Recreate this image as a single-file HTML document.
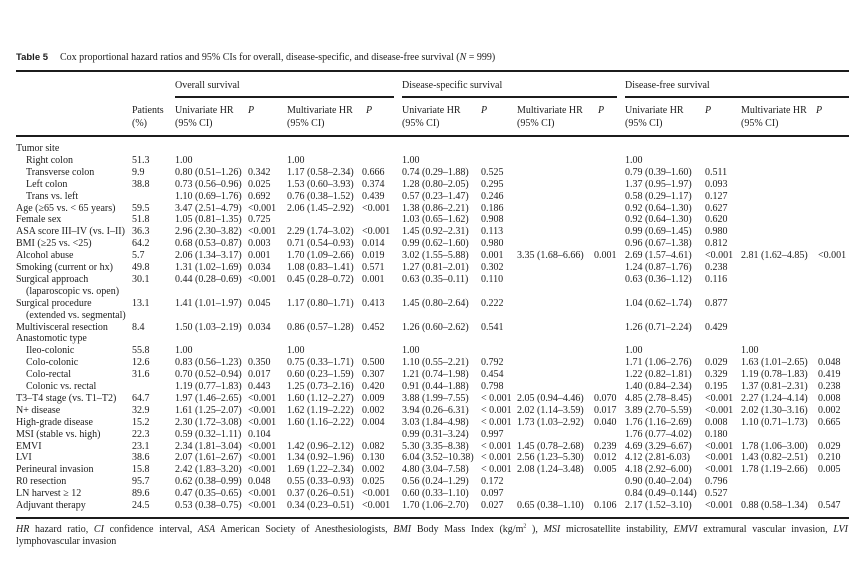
<!DOCTYPE html>
<html><head><meta charset="utf-8">
<style>
html,body{margin:0;padding:0;background:#fff;}
body{width:856px;height:583px;position:relative;overflow:hidden;font-family:"Liberation Serif",serif;font-size:10px;color:#1c1c1c;}
.r{position:absolute;left:0;width:856px;height:12px;line-height:12px;}
.r span,.a{position:absolute;white-space:nowrap;line-height:12px;}
.hr{position:absolute;background:#1c1c1c;}
.c0{left:16px}.ci{left:26px}.c1{left:132px}.c2{left:175px}.c3{left:248px}.c4{left:287px}.c5{left:362px}
.c6{left:402px}.c7{left:481px}.c8{left:517px}.c9{left:594px}.c10{left:625px}.c11{left:705px}.c12{left:741px}.c13{left:818px}
i{font-style:italic}
</style></head><body>
<div class="a" style="left:16px;top:52px;"><span style="font-family:'Liberation Sans',sans-serif;font-weight:bold;font-size:9.5px;">Table 5</span></div>
<div class="a" style="left:60px;top:52px;">Cox proportional hazard ratios and 95% CIs for overall, disease-specific, and disease-free survival (<i>N</i> = 999)</div>
<div class="hr" style="left:16px;top:70px;width:833px;height:2px;"></div>
<div class="a" style="left:175px;top:80px;">Overall survival</div>
<div class="a" style="left:402px;top:80px;">Disease-specific survival</div>
<div class="a" style="left:625px;top:80px;">Disease-free survival</div>
<div class="hr" style="left:175px;top:96px;width:219px;height:1.5px;"></div>
<div class="hr" style="left:402px;top:96px;width:215px;height:1.5px;"></div>
<div class="hr" style="left:625px;top:96px;width:224px;height:1.5px;"></div>
<div class="r" style="top:105px;"><span class="c1">Patients</span><span class="c2">Univariate HR</span><span class="c3"><i>P</i></span><span class="c4">Multivariate HR</span><span class="c5" style="left:366px"><i>P</i></span><span class="c6">Univariate HR</span><span class="c7"><i>P</i></span><span class="c8">Multivariate HR</span><span class="c9" style="left:598px"><i>P</i></span><span class="c10">Univariate HR</span><span class="c11"><i>P</i></span><span class="c12">Multivariate HR</span><span class="c13" style="left:816px"><i>P</i></span></div>
<div class="r" style="top:118px;"><span class="c1">(%)</span><span class="c2">(95% CI)</span><span class="c4">(95% CI)</span><span class="c6">(95% CI)</span><span class="c8">(95% CI)</span><span class="c10">(95% CI)</span><span class="c12">(95% CI)</span></div>
<div class="hr" style="left:16px;top:135px;width:833px;height:2px;"></div>

<div class="r" style="top:143px;"><span class="c0">Tumor site</span></div>
<div class="r" style="top:154.9px;"><span class="ci">Right colon</span><span class="c1">51.3</span><span class="c2">1.00</span><span class="c4">1.00</span><span class="c6">1.00</span><span class="c10">1.00</span></div>
<div class="r" style="top:166.8px;"><span class="ci">Transverse colon</span><span class="c1">9.9</span><span class="c2">0.80 (0.51–1.26)</span><span class="c3">0.342</span><span class="c4">1.17 (0.58–2.34)</span><span class="c5">0.666</span><span class="c6">0.74 (0.29–1.88)</span><span class="c7">0.525</span><span class="c10">0.79 (0.39–1.60)</span><span class="c11">0.511</span></div>
<div class="r" style="top:178.7px;"><span class="ci">Left colon</span><span class="c1">38.8</span><span class="c2">0.73 (0.56–0.96)</span><span class="c3">0.025</span><span class="c4">1.53 (0.60–3.93)</span><span class="c5">0.374</span><span class="c6">1.28 (0.80–2.05)</span><span class="c7">0.295</span><span class="c10">1.37 (0.95–1.97)</span><span class="c11">0.093</span></div>
<div class="r" style="top:190.6px;"><span class="ci">Trans vs. left</span><span class="c2">1.10 (0.69–1.76)</span><span class="c3">0.692</span><span class="c4">0.76 (0.38–1.52)</span><span class="c5">0.439</span><span class="c6">0.57 (0.23–1.47)</span><span class="c7">0.246</span><span class="c10">0.58 (0.29–1.17)</span><span class="c11">0.127</span></div>
<div class="r" style="top:202.5px;"><span class="c0">Age (≥65 vs. &lt; 65 years)</span><span class="c1">59.5</span><span class="c2">3.47 (2.51–4.79)</span><span class="c3">&lt;0.001</span><span class="c4">2.06 (1.45–2.92)</span><span class="c5">&lt;0.001</span><span class="c6">1.38 (0.86–2.21)</span><span class="c7">0.186</span><span class="c10">0.92 (0.64–1.30)</span><span class="c11">0.627</span></div>
<div class="r" style="top:214.4px;"><span class="c0">Female sex</span><span class="c1">51.8</span><span class="c2">1.05 (0.81–1.35)</span><span class="c3">0.725</span><span class="c6">1.03 (0.65–1.62)</span><span class="c7">0.908</span><span class="c10">0.92 (0.64–1.30)</span><span class="c11">0.620</span></div>
<div class="r" style="top:226.3px;"><span class="c0">ASA score III–IV (vs. I–II)</span><span class="c1">36.3</span><span class="c2">2.96 (2.30–3.82)</span><span class="c3">&lt;0.001</span><span class="c4">2.29 (1.74–3.02)</span><span class="c5">&lt;0.001</span><span class="c6">1.45 (0.92–2.31)</span><span class="c7">0.113</span><span class="c10">0.99 (0.69–1.45)</span><span class="c11">0.980</span></div>
<div class="r" style="top:238.2px;"><span class="c0">BMI (≥25 vs. &lt;25)</span><span class="c1">64.2</span><span class="c2">0.68 (0.53–0.87)</span><span class="c3">0.003</span><span class="c4">0.71 (0.54–0.93)</span><span class="c5">0.014</span><span class="c6">0.99 (0.62–1.60)</span><span class="c7">0.980</span><span class="c10">0.96 (0.67–1.38)</span><span class="c11">0.812</span></div>
<div class="r" style="top:250.1px;"><span class="c0">Alcohol abuse</span><span class="c1">5.7</span><span class="c2">2.06 (1.34–3.17)</span><span class="c3">0.001</span><span class="c4">1.70 (1.09–2.66)</span><span class="c5">0.019</span><span class="c6">3.02 (1.55–5.88)</span><span class="c7">0.001</span><span class="c8">3.35 (1.68–6.66)</span><span class="c9">0.001</span><span class="c10">2.69 (1.57–4.61)</span><span class="c11">&lt;0.001</span><span class="c12">2.81 (1.62–4.85)</span><span class="c13">&lt;0.001</span></div>
<div class="r" style="top:262px;"><span class="c0">Smoking (current or hx)</span><span class="c1">49.8</span><span class="c2">1.31 (1.02–1.69)</span><span class="c3">0.034</span><span class="c4">1.08 (0.83–1.41)</span><span class="c5">0.571</span><span class="c6">1.27 (0.81–2.01)</span><span class="c7">0.302</span><span class="c10">1.24 (0.87–1.76)</span><span class="c11">0.238</span></div>
<div class="r" style="top:273.9px;"><span class="c0">Surgical approach</span><span class="c1">30.1</span><span class="c2">0.44 (0.28–0.69)</span><span class="c3">&lt;0.001</span><span class="c4">0.45 (0.28–0.72)</span><span class="c5">0.001</span><span class="c6">0.63 (0.35–0.11)</span><span class="c7">0.110</span><span class="c10">0.63 (0.36–1.12)</span><span class="c11">0.116</span></div>
<div class="r" style="top:285.8px;"><span class="ci">(laparoscopic vs. open)</span></div>
<div class="r" style="top:297.7px;"><span class="c0">Surgical procedure</span><span class="c1">13.1</span><span class="c2">1.41 (1.01–1.97)</span><span class="c3">0.045</span><span class="c4">1.17 (0.80–1.71)</span><span class="c5">0.413</span><span class="c6">1.45 (0.80–2.64)</span><span class="c7">0.222</span><span class="c10">1.04 (0.62–1.74)</span><span class="c11">0.877</span></div>
<div class="r" style="top:309.6px;"><span class="ci">(extended vs. segmental)</span></div>
<div class="r" style="top:321.5px;"><span class="c0">Multivisceral resection</span><span class="c1">8.4</span><span class="c2">1.50 (1.03–2.19)</span><span class="c3">0.034</span><span class="c4">0.86 (0.57–1.28)</span><span class="c5">0.452</span><span class="c6">1.26 (0.60–2.62)</span><span class="c7">0.541</span><span class="c10">1.26 (0.71–2.24)</span><span class="c11">0.429</span></div>
<div class="r" style="top:333.4px;"><span class="c0">Anastomotic type</span></div>
<div class="r" style="top:345.3px;"><span class="ci">Ileo-colonic</span><span class="c1">55.8</span><span class="c2">1.00</span><span class="c4">1.00</span><span class="c6">1.00</span><span class="c10">1.00</span><span class="c12">1.00</span></div>
<div class="r" style="top:357.2px;"><span class="ci">Colo-colonic</span><span class="c1">12.6</span><span class="c2">0.83 (0.56–1.23)</span><span class="c3">0.350</span><span class="c4">0.75 (0.33–1.71)</span><span class="c5">0.500</span><span class="c6">1.10 (0.55–2.21)</span><span class="c7">0.792</span><span class="c10">1.71 (1.06–2.76)</span><span class="c11">0.029</span><span class="c12">1.63 (1.01–2.65)</span><span class="c13">0.048</span></div>
<div class="r" style="top:369.1px;"><span class="ci">Colo-rectal</span><span class="c1">31.6</span><span class="c2">0.70 (0.52–0.94)</span><span class="c3">0.017</span><span class="c4">0.60 (0.23–1.59)</span><span class="c5">0.307</span><span class="c6">1.21 (0.74–1.98)</span><span class="c7">0.454</span><span class="c10">1.22 (0.82–1.81)</span><span class="c11">0.329</span><span class="c12">1.19 (0.78–1.83)</span><span class="c13">0.419</span></div>
<div class="r" style="top:381px;"><span class="ci">Colonic vs. rectal</span><span class="c2">1.19 (0.77–1.83)</span><span class="c3">0.443</span><span class="c4">1.25 (0.73–2.16)</span><span class="c5">0.420</span><span class="c6">0.91 (0.44–1.88)</span><span class="c7">0.798</span><span class="c10">1.40 (0.84–2.34)</span><span class="c11">0.195</span><span class="c12">1.37 (0.81–2.31)</span><span class="c13">0.238</span></div>
<div class="r" style="top:392.9px;"><span class="c0">T3–T4 stage (vs. T1–T2)</span><span class="c1">64.7</span><span class="c2">1.97 (1.46–2.65)</span><span class="c3">&lt;0.001</span><span class="c4">1.60 (1.12–2.27)</span><span class="c5">0.009</span><span class="c6">3.88 (1.99–7.55)</span><span class="c7">&lt; 0.001</span><span class="c8">2.05 (0.94–4.46)</span><span class="c9">0.070</span><span class="c10">4.85 (2.78–8.45)</span><span class="c11">&lt;0.001</span><span class="c12">2.27 (1.24–4.14)</span><span class="c13">0.008</span></div>
<div class="r" style="top:404.8px;"><span class="c0">N+ disease</span><span class="c1">32.9</span><span class="c2">1.61 (1.25–2.07)</span><span class="c3">&lt;0.001</span><span class="c4">1.62 (1.19–2.22)</span><span class="c5">0.002</span><span class="c6">3.94 (0.26–6.31)</span><span class="c7">&lt; 0.001</span><span class="c8">2.02 (1.14–3.59)</span><span class="c9">0.017</span><span class="c10">3.89 (2.70–5.59)</span><span class="c11">&lt;0.001</span><span class="c12">2.02 (1.30–3.16)</span><span class="c13">0.002</span></div>
<div class="r" style="top:416.7px;"><span class="c0">High-grade disease</span><span class="c1">15.2</span><span class="c2">2.30 (1.72–3.08)</span><span class="c3">&lt;0.001</span><span class="c4">1.60 (1.16–2.22)</span><span class="c5">0.004</span><span class="c6">3.03 (1.84–4.98)</span><span class="c7">&lt; 0.001</span><span class="c8">1.73 (1.03–2.92)</span><span class="c9">0.040</span><span class="c10">1.76 (1.16–2.69)</span><span class="c11">0.008</span><span class="c12">1.10 (0.71–1.73)</span><span class="c13">0.665</span></div>
<div class="r" style="top:428.6px;"><span class="c0">MSI (stable vs. high)</span><span class="c1">22.3</span><span class="c2">0.59 (0.32–1.11)</span><span class="c3">0.104</span><span class="c6">0.99 (0.31–3.24)</span><span class="c7">0.997</span><span class="c10">1.76 (0.77–4.02)</span><span class="c11">0.180</span></div>
<div class="r" style="top:440.5px;"><span class="c0">EMVI</span><span class="c1">23.1</span><span class="c2">2.34 (1.81–3.04)</span><span class="c3">&lt;0.001</span><span class="c4">1.42 (0.96–2.12)</span><span class="c5">0.082</span><span class="c6">5.30 (3.35–8.38)</span><span class="c7">&lt; 0.001</span><span class="c8">1.45 (0.78–2.68)</span><span class="c9">0.239</span><span class="c10">4.69 (3.29–6.67)</span><span class="c11">&lt;0.001</span><span class="c12">1.78 (1.06–3.00)</span><span class="c13">0.029</span></div>
<div class="r" style="top:452.4px;"><span class="c0">LVI</span><span class="c1">38.6</span><span class="c2">2.07 (1.61–2.67)</span><span class="c3">&lt;0.001</span><span class="c4">1.34 (0.92–1.96)</span><span class="c5">0.130</span><span class="c6">6.04 (3.52–10.38)</span><span class="c7">&lt; 0.001</span><span class="c8">2.56 (1.23–5.30)</span><span class="c9">0.012</span><span class="c10">4.12 (2.81-6.03)</span><span class="c11">&lt;0.001</span><span class="c12">1.43 (0.82–2.51)</span><span class="c13">0.210</span></div>
<div class="r" style="top:464.3px;"><span class="c0">Perineural invasion</span><span class="c1">15.8</span><span class="c2">2.42 (1.83–3.20)</span><span class="c3">&lt;0.001</span><span class="c4">1.69 (1.22–2.34)</span><span class="c5">0.002</span><span class="c6">4.80 (3.04–7.58)</span><span class="c7">&lt; 0.001</span><span class="c8">2.08 (1.24–3.48)</span><span class="c9">0.005</span><span class="c10">4.18 (2.92–6.00)</span><span class="c11">&lt;0.001</span><span class="c12">1.78 (1.19–2.66)</span><span class="c13">0.005</span></div>
<div class="r" style="top:476.2px;"><span class="c0">R0 resection</span><span class="c1">95.7</span><span class="c2">0.62 (0.38–0.99)</span><span class="c3">0.048</span><span class="c4">0.55 (0.33–0.93)</span><span class="c5">0.025</span><span class="c6">0.56 (0.24–1.29)</span><span class="c7">0.172</span><span class="c10">0.90 (0.40–2.04)</span><span class="c11">0.796</span></div>
<div class="r" style="top:488.1px;"><span class="c0">LN harvest ≥ 12</span><span class="c1">89.6</span><span class="c2">0.47 (0.35–0.65)</span><span class="c3">&lt;0.001</span><span class="c4">0.37 (0.26–0.51)</span><span class="c5">&lt;0.001</span><span class="c6">0.60 (0.33–1.10)</span><span class="c7">0.097</span><span class="c10">0.84 (0.49–0.144)</span><span class="c11">0.527</span></div>
<div class="r" style="top:500px;"><span class="c0">Adjuvant therapy</span><span class="c1">24.5</span><span class="c2">0.53 (0.38–0.75)</span><span class="c3">&lt;0.001</span><span class="c4">0.34 (0.23–0.51)</span><span class="c5">&lt;0.001</span><span class="c6">1.70 (1.06–2.70)</span><span class="c7">0.027</span><span class="c8">0.65 (0.38–1.10)</span><span class="c9">0.106</span><span class="c10">2.17 (1.52–3.10)</span><span class="c11">&lt;0.001</span><span class="c12">0.88 (0.58–1.34)</span><span class="c13">0.547</span></div>
<div class="hr" style="left:16px;top:517px;width:833px;height:2px;"></div>
<div style="position:absolute;left:16px;top:524px;width:832px;line-height:12px;white-space:nowrap;text-align:justify;text-align-last:justify;"><i>HR</i> hazard ratio, <i>CI</i> confidence interval, <i>ASA</i> American Society of Anesthesiologists, <i>BMI</i> Body Mass Index (kg/m<sup style="font-size:6px;line-height:0;">2</sup> ), <i>MSI</i> microsatellite instability, <i>EMVI</i> extramural vascular invasion, <i>LVI</i></div>
<div class="a" style="left:16px;top:536px;">lymphovascular invasion</div>
</body></html>
